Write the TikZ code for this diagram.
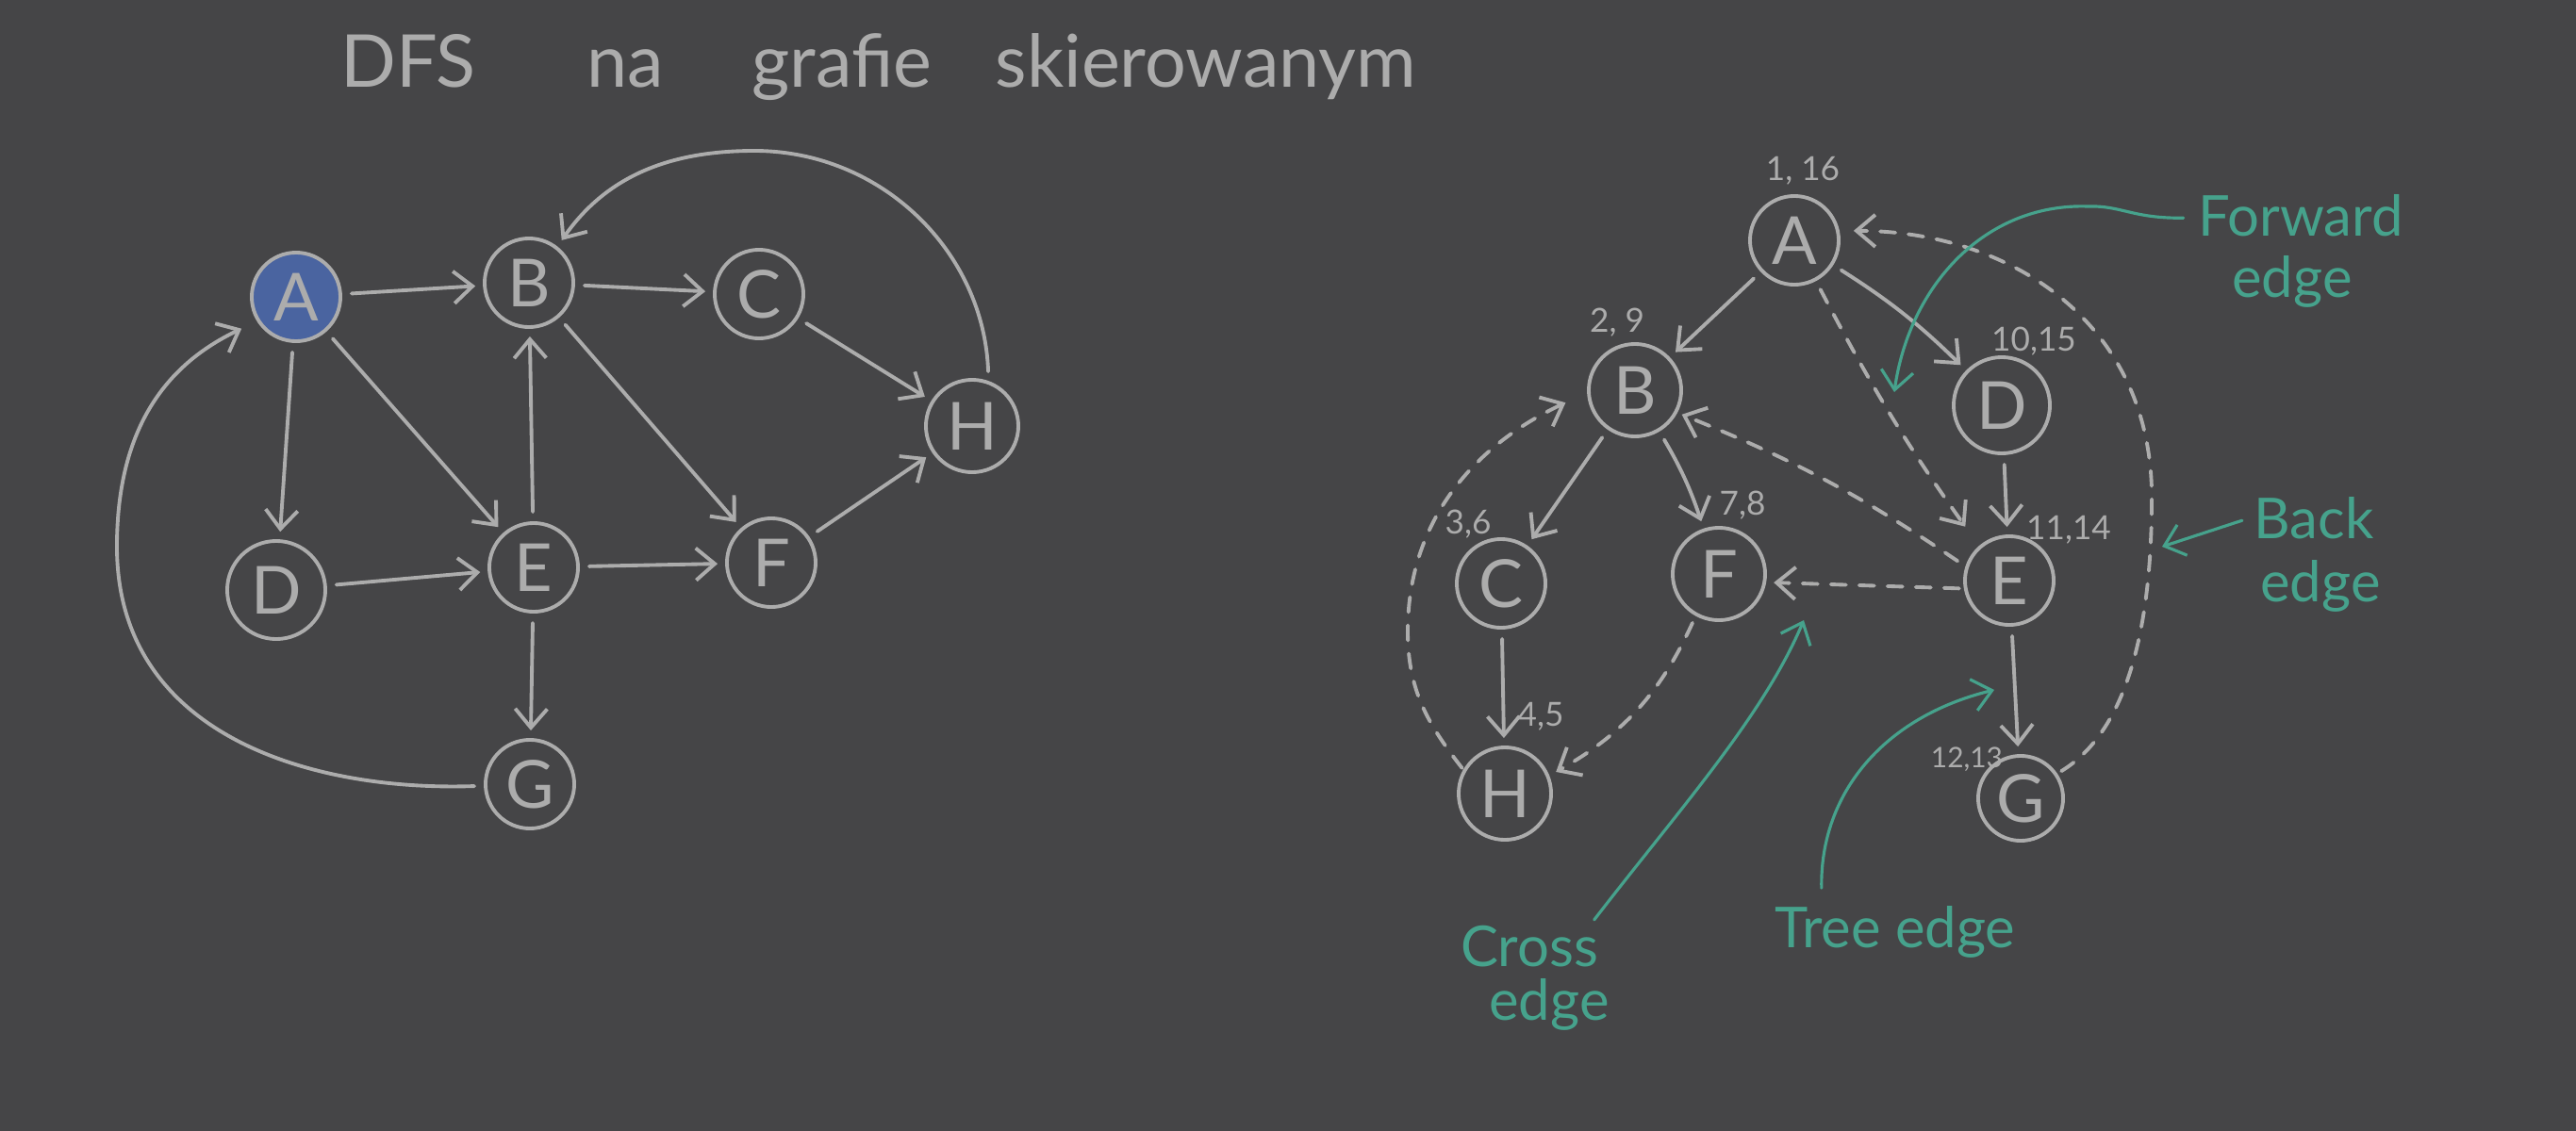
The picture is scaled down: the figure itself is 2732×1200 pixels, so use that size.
\documentclass[tikz,border=0pt]{standalone}
\usepackage{fontspec}
\setmainfont{Lato}
\usetikzlibrary{arrows.meta}
\definecolor{bg}{RGB}{69,69,71}
\definecolor{ln}{RGB}{172,172,172}
\definecolor{tl}{RGB}{70,162,140}
\definecolor{blueA}{RGB}{74,100,160}
\tikzset{
  nd/.style={circle, draw=ln, line width=1.1pt, minimum size=0.94cm, inner sep=0pt, text=ln, font=\fontsize{20}{20}\selectfont},
  tip/.style={-{Straight Barb[length=2mm,width=3.4mm,line width=1.1pt]}},
  edge/.style={draw=ln, line width=1.1pt, line cap=round, tip, shorten <=0.1cm, shorten >=0.08cm},
  dedge/.style={edge, dash pattern=on 0.16cm off 0.14cm},
  tedge/.style={draw=tl, line width=0.9pt, line cap=round, -{Straight Barb[length=2mm,width=3.4mm,line width=0.9pt]}},
  ttl/.style={text=ln, font=\fontsize{22}{22}\selectfont, anchor=base, inner sep=0pt},
  lbl/.style={text=ln, font=\fontsize{10}{10}\selectfont, inner sep=0pt},
  tlab/.style={text=tl, font=\fontsize{17}{17}\selectfont, anchor=base, inner sep=0pt},
}
\begin{document}
\begin{tikzpicture}[x=0.01cm, y=-0.01cm]
\fill[bg] (0,0) rectangle (2732,1200);
\useasboundingbox (0,0) rectangle (2732,1200);

% title
\node[ttl] (t1) at (433,92) {DFS};
\node[ttl] (t2) at (663,92) {na};
\node[ttl] (t3) at (893,92) {grafie};
\node[ttl] (t4) at (1279,92) {skierowanym};

% left graph
\node[nd, fill=blueA] (A) at (314,315) {A};
\node[nd] (B) at (561,300) {B};
\node[nd] (C) at (805,312) {C};
\node[nd, minimum size=0.98cm] (H) at (1031,452) {H};
\node[nd, minimum size=1.04cm] (D) at (293,626) {D};
\node[nd] (E) at (566,602) {E};
\node[nd] (F) at (818,597) {F};
\node[nd] (G) at (562,832) {G};

\draw[edge] (A) -- (B);
\draw[edge] (B) -- (C);
\draw[edge] (C) -- (H);
\draw[edge] (H.70) to[out=92,in=0] (800,160) to[out=180,in=55] (B.52);
\draw[edge] (A) -- (D);
\draw[edge] (A) -- (E);
\draw[edge] (D) -- (E);
\draw[edge] (E) -- (B);
\draw[edge] (B) -- (F);
\draw[edge] (E) -- (F);
\draw[edge] (F) -- (H);
\draw[edge] (E) -- (G);
\draw[edge, shorten >=0.18cm] (G.182) .. controls (330,840) and (124,780) .. (124,580) .. controls (124,450) and (180,385) .. (A.212);

% right graph
\node[nd] (rA) at (1903,255) {A};
\node[nd, minimum size=0.98cm] (rB) at (1734,414) {B};
\node[nd, minimum size=1.02cm] (rD) at (2123,430) {D};
\node[nd] (rC) at (1592,619) {C};
\node[nd, minimum size=0.98cm] (rF) at (1823,609) {F};
\node[nd] (rE) at (2131,616) {E};
\node[nd, minimum size=0.98cm] (rH) at (1596,842) {H};
\node[nd, minimum size=0.9cm] (rG) at (2143,847) {G};

\node[lbl] (lA) at (1912,181) {1, 16};
\node[lbl] (lB) at (1715,342) {2, 9};
\node[lbl] (lD) at (2157,362) {10,15};
\node[lbl] (lC) at (1557,556) {3,6};
\node[lbl] (lF) at (1848,536) {7,8};
\node[lbl] (lE) at (2194,562) {11,14};
\node[lbl] (lH) at (1634,760) {4,5};
\node[lbl, font=\fontsize{8.5}{8.5}\selectfont] (lG) at (2086,806) {12,13};

% tree edges
\draw[edge] (rA) -- (rB);
\draw[edge] (rA) to[bend left=6] (rD);
\draw[edge] (rB) -- (rC);
\draw[edge] (rB) to[bend left=6] (rF);
\draw[edge] (rC) -- (rH);
\draw[edge] (rD) -- (rE);
\draw[edge] (rE) -- (rG);

% non-tree edges
\draw[dedge, shorten >=0.25cm] (rA.-62) to[bend right=4] (rE.131);
\draw[dedge, shorten >=0.05cm] (rE.162) to[bend right=6] (rB.-28);
\draw[dedge, shorten <=0.05cm, shorten >=0.08cm] (rE.190) -- (rF.-10);
\draw[dedge, shorten <=0.08cm] (rF.241) to[bend left=18] (rH.22);
\draw[dedge, shorten <=0.02cm, shorten >=0.25cm] (rH.150) to[out=128,in=-90] (1493,670) to[out=90,in=205] (rB.183);
\draw[dedge, shorten <=0.05cm, shorten >=0.15cm] (rG.34) .. controls (2265,770) and (2283,640) .. (2282,520) .. controls (2278,340) and (2130,245) .. (rA.12);

% teal annotations
\node[tlab] (fw1) at (2440,250) {Forward};
\node[tlab] (fw2) at (2431,315) {edge};
\node[tlab] (bk1) at (2454,571) {Back};
\node[tlab] (bk2) at (2461,638) {edge};
\node[tlab] (cr1) at (1622,1025) {Cross};
\node[tlab] (cr2) at (1643,1082) {edge};
\node[tlab] (tr1) at (2010,1005) {Tree edge};

\coordinate (fwT) at (2009,416);
\coordinate (bkT) at (2293,580);
\coordinate (crT) at (1913,658);
\coordinate (trT) at (2115,732);

\draw[tedge] (fw1.west) ++(-15,3) coordinate (fwS) .. controls (2262,232) and (2250,218) .. (2215,219) to[out=178,in=82] (fwT);
\draw[tedge] (bk1.west) ++(-12,3) coordinate (bkS) -- (bkT);
\draw[tedge] (cr1.north east) ++(-5,-5) coordinate (crS) .. controls (1780,860) and (1870,760) .. (crT);
\draw[tedge] (tr1.north west) ++(50,-18) coordinate (trS) .. controls (1930,840) and (2000,760) .. (trT);
\end{tikzpicture}
\end{document}
